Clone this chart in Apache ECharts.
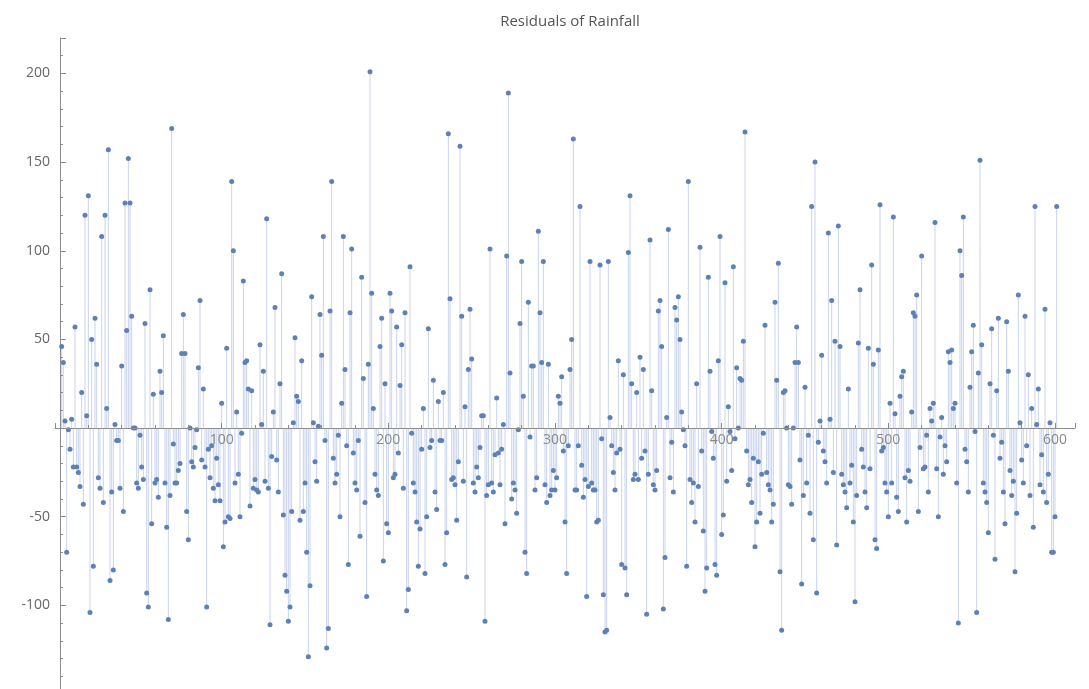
<!DOCTYPE html>
<html>
<head>
<meta charset="utf-8">
<script src="https://cdn.jsdelivr.net/npm/echarts@6/dist/echarts.min.js"></script>
<style>
html,body{margin:0;padding:0;background:#fff;}
#chart{width:1089px;height:689px;}
</style>
</head>
<body>
<div id="chart"></div>
<script>
const chartTitle = "Residuals of Rainfall";
const xStart = 4;
const residuals = [
 46, 37, 4, -70, -1, -12, 5, -22, 57, -22, -25, -33, 20, -43, 120, 7, 131, -104, 50, -78, 62, 36, -28, -34, 108, -42, 120, 11, 157, -86, -36, -80, 2, -7, -7, -34, 35, -47, 127, 55, 152, 127, 63, 0, 0, -31, -34, -4, -22,
 -29, 59, -93, -101, 78, -54, 19, -31, -29, -39, 32, 20, 52, -31, -56, -108, -38, 169, -9, -31, -31, -24, -20, 42, 64, 42, -47, -63, 0, -19, -22, -11, -1, 34, 72, -18, 22, -22, -101, -12, -28, -10, -34, -41, -17, -32, -41, 14, -67, -53, 45, -50,
 -51, 139, 100, -31, 9, -26, -50, -3, 83, 37, 38, 22, -44, 21, -34, -29, -35, -36, 47, 2, 32, -30, 118, -34, -111, -16, 9, 68, -18, -36, 25, 87, -49, -83, -92, -109, -101, -47, 3, 51, 18, 15, -52, 38, -47, -31, -70, -129, -89, 74, 3, -19, -30,
 1, 64, 41, 108, -7, -124, -113, 66, 139, -17, -31, -26, -4, -50, 14, 108, 33, -10, -77, 65, 101, -14, -31, -35, -7, -61, 85, 28, -42, -95, 36, 201, 76, 11, -26, -35, -38, 46, 62, -75, 25, -54, -59, 76, 66, -28, -26, 57,
 -14, 24, 47, -34, 65, -103, -91, 91, -3, -31, -36, -53, -78, -57, -12, 11, -82, -50, 56, -11, -7, 27, -36, -46, 15, -7, -7, 20, -77, -59, 166, 73, -29, -28, -32, -52, -19, 159, 63, -30, 12, -84, 33, 67, 39, -31, -36, -22, -28, -11, 7,
 7, -109, -38, -32, 101, -31, -36, -15, 17, -14, -32, -12, 2, -54, 97, 189, 31, -40, -31, -35, -48, -1, 59, 94, 18, -70, -82, 71, -5, 35, 35, -35, -28, 111, 65, 37, 94, -32, -42, 36, -38, -35, -24, -35, -28, 18, 14, 29, -13, -53, -82,
 -10, 33, 50, 163, -35, -35, -10, 125, -21, -39, -29, -95, -33, 94, -31, -35, -35, -53, -52, 92, -6, -94, -115, -114, 94, 6, -10, -25, -35, -14, 38, -12, -77, 30, -79, -94, 99, 131, 25, -29, -26, 20, -29, 40, -17, 33, -13, -105, -26, 106, 21, -32,
 -35, -24, 66, 72, 46, -102, -73, 6, 112, -28, -8, -36, 68, 61, 74, 50, 9, -1, -10, -78, 139, -29, -42, -31, -53, 25, -33, 102, -13, -58, -92, -79, 85, 32, -2, -17, -77, -83, 38, 108, -60, -49, 82, -30, 12, -2, -24, 91,
 -6, 34, 0, 28, 27, 49, 167, -13, -32, -29, -42, -17, -67, -53, -19, -48, -26, -3, 58, -25, -32, -35, -53, -43, 71, 27, 93, -81, -114, 20, 21, 0, -32, -33, -43, 0, 37, 57, 37, -18, -88, -38, 23, -31, -4, -48, 125, -63, 150, -93,
 -8, 4, 41, -13, -19, -31, 110, 5, 72, -25, 49, -66, 114, 46, -26, -32, -36, -45, 22, -31, -21, -53, -98, -38, 48, 78, -12, -22, -36, -45, 45, -23, 92, 36, -63, -68, 44, 126, -13, -11, -31, -36, -50, 14, -31, 119, 8, -39, -47, 18, 29, 32,
 -28, -53, -24, -30, 9, 65, 63, 75, -47, -11, 97, -23, -22, -4, -36, 11, 4, 14, 116, -23, -50, -5, 6, -26, -10, -19, 43, 37, 44, 11, 14, -31, -110, 100, 86, 119, -12, -19, -36, 23, 43, 58, -2, -104, 31, 151, 47, -31, -36,
 -42, -59, 25, 56, -4, -74, 21, 62, -17, -8, -36, -54, 60, 32, -24, -38, -30, -81, -48, 75, 3, -18, -31, 63, -10, 30, -38, 11, -56, 125, 2, 22, -32, -15, -36, 67, -42, -26, 3, -70, -70, -50, 125
];
const xTicks = [100, 200, 300, 400, 500, 600];
const yTicks = [-100, -50, 50, 100, 150, 200];

const points = residuals.map((v, i) => [xStart + i, v]);

const gridTop = 38, gridHeight = 656;
const yMin = -150, yMax = 220;
// move the x axis up so that it sits on y = 0
const xAxisOffset = -gridHeight * (0 - yMin) / (yMax - yMin);

const chart = echarts.init(document.getElementById('chart'), null, {renderer: 'canvas'});
const axisGray = '#8c8c8c';
chart.setOption({
  animation: false,
  backgroundColor: '#ffffff',
  title: {
    text: chartTitle,
    left: 565,
    top: 9,
    textAlign: 'center',
    textStyle: {fontFamily: 'Open Sans, Liberation Sans, sans-serif', fontSize: 15, fontWeight: 'normal', color: '#555555'}
  },
  grid: {left: 55, top: gridTop, width: 1020, height: gridHeight, containLabel: false, outerBoundsMode: 'none'},
  xAxis: {
    type: 'value',
    min: 0,
    max: 612,
    interval: 100,
    position: 'bottom',
    offset: xAxisOffset,
    axisLine: {onZero: false, lineStyle: {color: axisGray, width: 1}},
    axisTick: {show: true, inside: true, length: 5, lineStyle: {color: axisGray}},
    minorTick: {show: true, splitNumber: 5, length: 3, lineStyle: {color: axisGray}},
    splitLine: {show: false},
    axisLabel: {
      color: '#8a8a8a', fontSize: 14, margin: 5,
      fontFamily: 'Open Sans, Liberation Sans, sans-serif',
      formatter: v => xTicks.includes(v) ? String(v) : ''
    },
    z: 5
  },
  yAxis: {
    type: 'value',
    min: yMin,
    max: yMax,
    interval: 50,
    offset: -5,
    axisLine: {onZero: false, lineStyle: {color: axisGray, width: 1}},
    axisTick: {show: true, inside: true, length: 6, lineStyle: {color: axisGray}},
    minorTick: {show: true, splitNumber: 5, length: 3, lineStyle: {color: axisGray}},
    splitLine: {show: false},
    axisLabel: {
      color: '#666666', fontSize: 14, margin: 10,
      fontFamily: 'Open Sans, Liberation Sans, sans-serif',
      formatter: v => yTicks.includes(v) ? String(v) : ''
    }
  },
  series: [
    {
      type: 'custom',
      data: points,
      silent: true,
      clip: true,
      renderItem: function (params, api) {
        const x = api.value(0), y = api.value(1);
        const p0 = api.coord([x, 0]);
        const p1 = api.coord([x, y]);
        return {
          type: 'line',
          shape: {x1: p0[0], y1: p0[1], x2: p1[0], y2: p1[1]},
          style: {stroke: 'rgba(110,140,200,0.38)', lineWidth: 1}
        };
      },
      z: 1
    },
    {
      type: 'scatter',
      data: points,
      symbol: 'circle',
      symbolSize: 5,
      itemStyle: {color: '#5e81b5', opacity: 1},
      z: 3
    }
  ]
});
</script>
</body>
</html>
